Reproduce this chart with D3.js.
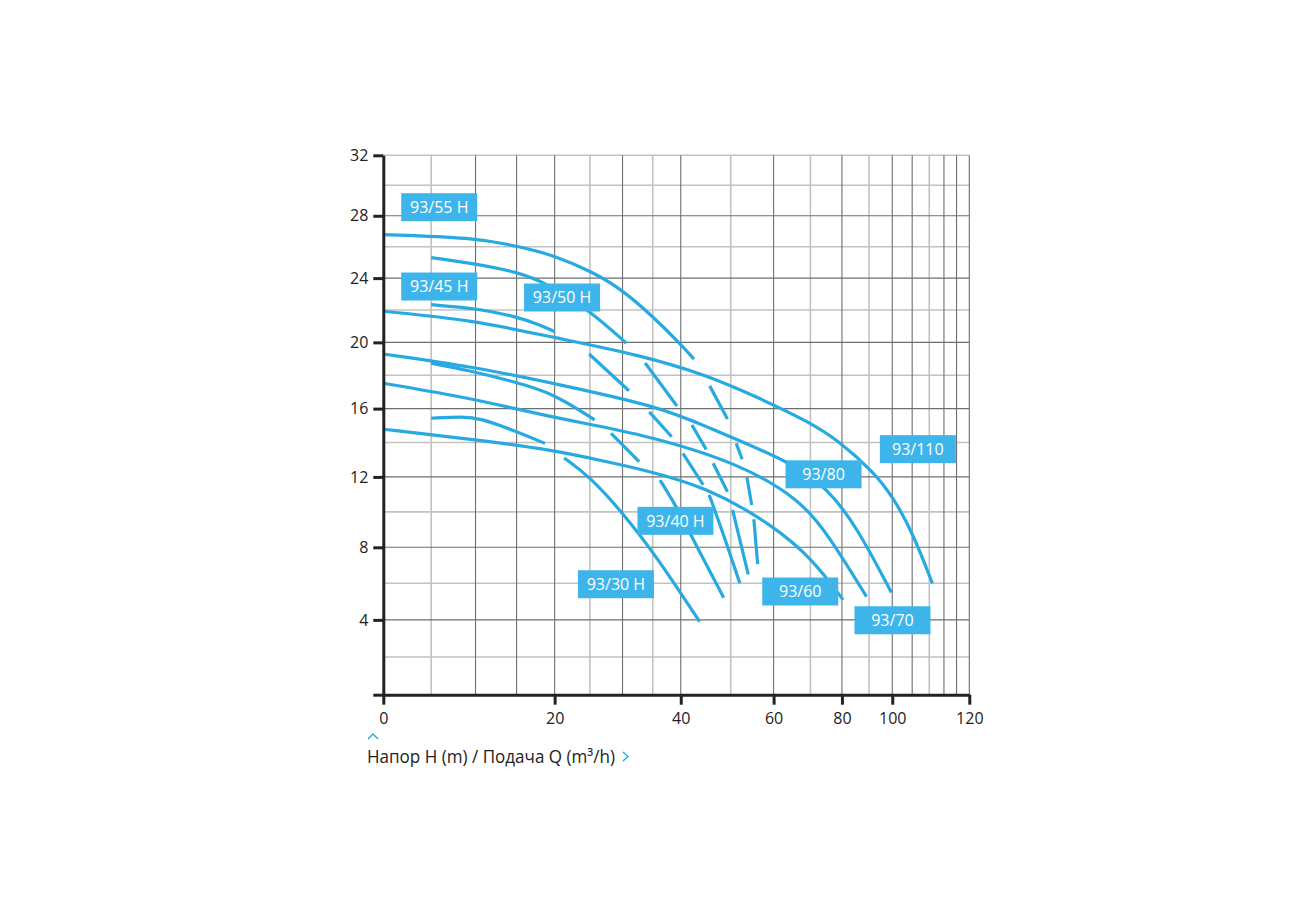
<!DOCTYPE html>
<html><head><meta charset="utf-8">
<script src="https://cdn.jsdelivr.net/npm/d3@7"></script>
<style>
html,body{margin:0;padding:0;background:#fff;}
svg{display:block;}
text{font-family:"Open Sans","Noto Sans",sans-serif;}
</style></head><body>
<svg id="chart" width="1300" height="900"></svg>
<script>
// ================= DATA =================
const xTickValues = [0, 20, 40, 60, 80, 100, 152];
const xTickLabels = ["0", "20", "40", "60", "80", "100", "120"];
const yTickValues = [0, 4, 8, 12, 16, 20, 24, 28, 32];
const yTickLabels = ["", "4", "8", "12", "16", "20", "24", "28", "32"];
const xGridMajor = [10, 15, 20, 30, 40, 60, 80, 100, 110, 130, 140, 152];
const xGridMinor = [5, 25, 35, 50, 70, 90, 120];
const yGridMajor = [4, 8, 12, 16, 20, 24, 28];
const yGridMinor = [2, 6, 10, 14, 18, 22, 26, 30, 32];

// each model: list of drawn pieces, each piece a list of [Q, H]
const curve93_30H = [
  [[5,15.43],[8.6,15.53],[10.5,15.43],[14.5,14.74],[18.7,13.95]],
  [[21.3,13.1],[25,12.01],[30.1,9.92],[35.7,7.47],[43.6,3.9]]
];
const curve93_40H = [
  [[5,18.73],[9.0,18.32],[14.6,17.62],[19.8,16.92],[25.7,15.33]],
  [[28.2,14.54],[32.7,12.88]],
  [[36.25,11.82],[39.2,10.3],[42.06,8.6],[48.5,5.21]]
];
const curve93_45H = [
  [[5,22.33],[10,22.11],[15,21.59],[18.06,21.07],[20,20.66]],
  [[24.89,19.29],[31.03,17.07]],
  [[34.4,15.81],[38.34,14.34]],
  [[40.4,13.37],[44.3,11.54]],
  [[45.5,10.97],[48.5,8.69],[52.0,6.0]]
];
const curve93_50H = [
  [[5,25.3],[10,24.9],[15,24.4],[19,23.67],[25.2,21.9],[30.6,19.95]],
  [[33.7,18.74],[39.3,16.16]],
  [[42.1,15.03],[44.9,13.6]],
  [[46.3,12.79],[49.3,11.15]],
  [[50.4,10.11],[53.9,6.5]]
];
const curve93_55H = [
  [[0,26.78],[9.7,26.6],[15.4,26.0],[19.8,25.47],[25.4,24.4],[30,23.25],[35,21.6],[39.8,19.96],[42.5,18.98]],
  [[45.6,17.36],[49.3,15.39]],
  [[51.2,13.95],[52.5,13.02]],
  [[53.6,11.98],[54.7,10.39]],
  [[55.2,9.58],[56.1,7.06]]
];
const curve93_60 = [
  [[0,14.78],[9.6,14.19],[19.8,13.56],[27.5,12.88],[32.9,12.46],[44.9,11.44],[59.8,9.26],[70.9,7.29],[80.4,5.09]]
];
const curve93_70 = [
  [[0,17.52],[9.6,16.62],[19.8,15.45],[32.9,14.54],[52.0,12.79],[67.1,10.68],[75.2,8.78],[89.0,5.27]]
];
const curve93_80 = [
  [[0,19.29],[9.6,18.52],[19.8,17.52],[36.25,16.11],[44.9,14.93],[64.4,12.88],[75.2,11.35],[85.3,9.16],[99.6,5.49]]
];
const curve93_110 = [
  [[0,21.92],[9.6,21.38],[19.8,20.31],[32.85,19.23],[44.9,18.02],[55.8,16.71],[69.8,15.2],[79.3,14.05],[91.7,12.3],[100.3,10.87],[110.4,8.79],[122,6.0]]
];
const allCurves = [curve93_30H, curve93_40H, curve93_45H, curve93_50H, curve93_55H,
                   curve93_60, curve93_70, curve93_80, curve93_110];

const labelNames = ["93/55 H","93/45 H","93/50 H","93/30 H","93/40 H","93/80","93/110","93/60","93/70"];
const labelQ = [5.88, 5.88, 21.02, 28.96, 39.02, 73.99, 113.16, 67.08, 100.1];
const labelH = [28.56, 23.47, 22.78, 5.95, 9.49, 12.15, 13.61, 5.55, 3.98];

const axisTitle = "Напор H (m) / Подача Q (m³/h)";

// ================= LAYOUT / STYLE =================
const plotLeft = 383.3, plotRight = 969.3, plotTop = 155.3, plotBottom = 694.7;
const X_RATE = 0.7361, Y_RATE = 0.941, X_MAX = 152, Y_MAX = 32;
const curveColor = "#27aae1";
const boxColor = "#3db5eb";

// warped (saturating) scales built as polylinear d3 scales
const xWarp = q => 1 - Math.pow(X_RATE, q / 20);
const yWarp = h => 1 - Math.pow(Y_RATE, h / 8);
const xBase = d3.scaleLinear().domain([0, xWarp(X_MAX)]).range([plotLeft, plotRight]);
const yBase = d3.scaleLinear().domain([0, yWarp(Y_MAX)]).range([plotBottom, plotTop]);
const xPts = d3.range(0, X_MAX + 0.001, 0.25);
const yPts = d3.range(0, Y_MAX + 0.001, 0.1);
const x = d3.scaleLinear().domain(xPts).range(xPts.map(q => xBase(xWarp(q))));
const y = d3.scaleLinear().domain(yPts).range(yPts.map(h => yBase(yWarp(h))));

const svg = d3.select("#chart");

// grid
const grid = svg.append("g");
grid.selectAll("line.hmin").data(yGridMinor).join("line")
  .attr("x1", x(0)).attr("x2", x(X_MAX)).attr("y1", d => y(d)).attr("y2", d => y(d))
  .attr("stroke", "#c2c2c2").attr("stroke-width", 1.6);
grid.selectAll("line.vmin").data(xGridMinor).join("line")
  .attr("y1", y(0)).attr("y2", y(Y_MAX)).attr("x1", d => x(d)).attr("x2", d => x(d))
  .attr("stroke", "#c2c2c2").attr("stroke-width", 1.6);
grid.selectAll("line.hmaj").data(yGridMajor).join("line")
  .attr("x1", x(0)).attr("x2", x(X_MAX)).attr("y1", d => y(d)).attr("y2", d => y(d))
  .attr("stroke", "#6e6e6e").attr("stroke-width", 1.1);
grid.selectAll("line.vmaj").data(xGridMajor).join("line")
  .attr("y1", y(0)).attr("y2", y(Y_MAX)).attr("x1", d => x(d)).attr("x2", d => x(d))
  .attr("stroke", "#6e6e6e").attr("stroke-width", 1.1);

// curves
const line = d3.line().x(d => x(d[0])).y(d => y(d[1])).curve(d3.curveBasis);
const cg = svg.append("g");
allCurves.forEach(pieces => {
  cg.selectAll(null).data(pieces).join("path")
    .attr("d", line).attr("fill", "none")
    .attr("stroke", curveColor).attr("stroke-width", 3.2);
});

// labels
const lg = svg.append("g");
const boxW = 76, boxH = 28;
labelNames.forEach((name, i) => {
  const cx = x(labelQ[i]), cy = y(labelH[i]);
  lg.append("rect").attr("x", cx - boxW / 2).attr("y", cy - boxH / 2)
    .attr("width", boxW).attr("height", boxH).attr("fill", boxColor);
  lg.append("text").attr("x", cx).attr("y", cy).attr("dy", "0.36em")
    .attr("text-anchor", "middle").attr("fill", "#fff")
    .attr("font-size", 16).text(name);
});

// axes
const xAxis = d3.axisBottom(x).tickValues(xTickValues)
  .tickFormat((d, i) => xTickLabels[i]).tickSize(10).tickSizeOuter(0).tickPadding(8);
const yAxis = d3.axisLeft(y).tickValues(yTickValues)
  .tickFormat((d, i) => yTickLabels[i]).tickSize(10).tickSizeOuter(0).tickPadding(5);
const gx = svg.append("g").attr("transform", `translate(0,${plotBottom})`).call(xAxis);
const gy = svg.append("g").attr("transform", `translate(${plotLeft},0)`).call(yAxis);
[gx, gy].forEach(g => {
  g.select(".domain").attr("stroke", "#222").attr("stroke-width", 3);
  g.selectAll(".tick line").attr("stroke", "#222").attr("stroke-width", 3);
  g.selectAll(".tick text").attr("fill", "#222").attr("font-size", 16)
    .attr("font-family", "'Open Sans','Noto Sans',sans-serif");
});

// axis title with chevrons
const titleX = 367, titleY = 763;
svg.append("text").attr("x", titleX).attr("y", titleY).attr("font-size", 18)
  .attr("fill", "#222").attr("textLength", 248).attr("lengthAdjust", "spacingAndGlyphs")
  .text(axisTitle);
const chev = d3.line();
svg.append("path").attr("d", chev([[titleX + 1, titleY - 24], [titleX + 6, titleY - 29], [titleX + 11, titleY - 24]]))
  .attr("fill", "none").attr("stroke", curveColor).attr("stroke-width", 1.4);
svg.append("path").attr("d", chev([[titleX + 256, titleY - 11], [titleX + 261, titleY - 6.5], [titleX + 256, titleY - 2]]))
  .attr("fill", "none").attr("stroke", curveColor).attr("stroke-width", 1.4);
</script>
</body></html>
